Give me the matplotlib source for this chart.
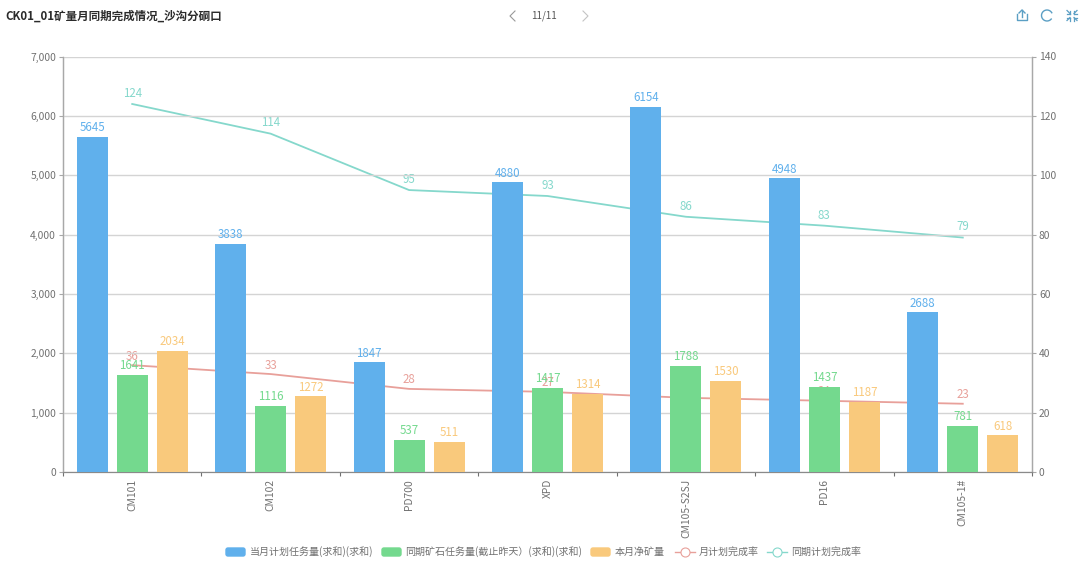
import matplotlib
matplotlib.use("Agg")
import matplotlib.pyplot as plt
import numpy as np
from matplotlib.patches import FancyBboxPatch

plt.rcParams["font.family"] = ["Noto Sans CJK SC", "DejaVu Sans"]

AZUL = "#60B0EC"
VERDE = "#74D98E"
NARANJA = "#F9C97C"
ROJO = "#E8A09A"
TEAL = "#85D8CC"
GRID = "#D4D4D4"
EJE = "#A8A8A8"
TEXTO = "#707070"
ICONO = "#5B9FC4"

cats = ["CM101", "CM102", "PD700", "XPD", "CM105-S2SJ", "PD16", "CM105-1#"]
plan = [5645, 3838, 1847, 4880, 6154, 4948, 2688]
tongqi = [1641, 1116, 537, 1417, 1788, 1437, 781]
jing = [2034, 1272, 511, 1314, 1530, 1187, 618]
rate_mes = [36, 33, 28, 27, 25, 24, 23]
rate_tq = [124, 114, 95, 93, 86, 83, 79]
ticks_l = [0, 1000, 2000, 3000, 4000, 5000, 6000, 7000]
ticks_r = [0, 20, 40, 60, 80, 100, 120, 140]
legend_labels = ["当月计划任务量(求和)(求和)", "同期矿石任务量(截止昨天）(求和)(求和)",
                 "本月净矿量", "月计划完成率", "同期计划完成率"]

W, H = 1080, 569
fig = plt.figure(figsize=(W / 100, H / 100), dpi=100)
ax = fig.add_axes([63 / W, 1 - 472 / H, (1032 - 63) / W, (472 - 56.5) / H])
ax2 = ax.twinx()

x = np.arange(len(cats))
w = 0.224
off = 0.289

# lineas detras de las barras (como en el original)
ax.set_zorder(2)
ax2.set_zorder(1)
ax.patch.set_visible(False)
ax2.plot(x, rate_mes, color=ROJO, lw=1.3, zorder=2)
ax2.plot(x, rate_tq, color=TEAL, lw=1.3, zorder=2)

ax.bar(x - off, plan, w, color=AZUL, zorder=3)
ax.bar(x, tongqi, w, color=VERDE, zorder=3)
ax.bar(x + off, jing, w, color=NARANJA, zorder=3)


def etiquetas(a, xs, vals, color, dy=2):
    for xi, v in zip(xs, vals):
        a.annotate(str(v), (xi, v), xytext=(0, dy), textcoords="offset points",
                   ha="center", va="bottom", fontsize=8.3, color=color, zorder=6)


etiquetas(ax, x - off, plan, AZUL)
etiquetas(ax, x, tongqi, VERDE)
etiquetas(ax, x + off, jing, NARANJA)
# los valores de 25 y 24 quedan tapados por las barras, igual que en el original
etiquetas(ax2, x, rate_mes, ROJO, dy=1.8)
etiquetas(ax2, x, rate_tq, TEAL, dy=3)

ax.set_xlim(-0.5, 6.5)
ax.set_ylim(0, 7000)
ax2.set_ylim(0, 140)
ax.set_yticks(ticks_l)
ax.set_yticklabels([f"{t:,}" for t in ticks_l])
ax2.set_yticks(ticks_r)
ax.grid(axis="y", color=GRID, lw=1, zorder=0)
ax.set_axisbelow(True)
ax.set_xticks(np.arange(-0.5, 7, 1))
ax.set_xticklabels([])
ax.tick_params(axis="x", length=3, color="#707070", width=0.8)
ax.tick_params(axis="y", length=3, color=EJE, labelcolor=TEXTO, labelsize=7.4, pad=2, width=0.8)
ax2.tick_params(axis="y", length=3, color=EJE, labelcolor=TEXTO, labelsize=7.4, pad=2, width=0.8)
for a in (ax, ax2):
    a.spines["top"].set_visible(False)
    a.spines["left"].set_color(EJE)
    a.spines["right"].set_color(EJE)
    a.spines["bottom"].set_color("#8A8A8A")
    a.spines["left"].set_linewidth(0.9)
    a.spines["right"].set_linewidth(0.9)

for xi, c in zip(x, cats):
    ax.annotate(c, (xi, 0), xytext=(0, -5), textcoords="offset points", rotation=90,
                ha="center", va="top", fontsize=7.4, color=TEXTO, annotation_clip=False)

# titulo y barra de herramientas
fig.text(5 / W, 1 - 16 / H, "CK01_01矿量月同期完成情况_沙沟分硐口", fontsize=8.3,
         fontweight="bold", color="#2B2B2B", va="center", ha="left")
fig.text(544 / W, 1 - 16 / H, "11/11", fontsize=7.0, color="#555555", va="center", ha="center")

# iconos dibujados en coordenadas de pixel
ov = fig.add_axes([0, 0, 1, 1])
ov.set_xlim(0, W)
ov.set_ylim(H, 0)
ov.axis("off")
ov.patch.set_visible(False)
ov.plot([515, 510, 515], [11, 16, 21], color="#999999", lw=0.8)
ov.plot([583, 588, 583], [11, 16, 21], color="#C4C4C4", lw=0.8)
ov.plot([1017, 1017, 1027, 1027], [14, 20, 20, 14], color=ICONO, lw=1)
ov.plot([1022, 1022], [10, 17], color=ICONO, lw=1)
ov.plot([1019, 1022, 1025], [13, 10, 13], color=ICONO, lw=1)
t = np.radians(np.arange(40, 340, 10))
ov.plot(1047 + 5.5 * np.cos(t), 15.5 + 5.5 * np.sin(t), color=ICONO, lw=1)
for sx, sy in [(-1, -1), (1, -1), (-1, 1), (1, 1)]:
    cx, cy = 1072 + sx * 2, 15.5 + sy * 2
    ov.plot([cx, cx + sx * 3], [cy, cy + sy * 3], color=ICONO, lw=0.9)
    ov.plot([cx, cx + sx * 3], [cy, cy], color=ICONO, lw=0.9)
    ov.plot([cx, cx], [cy, cy + sy * 3], color=ICONO, lw=0.9)

# leyenda a mano para respetar las posiciones del original
ly = 552
items = [(225, 250, AZUL), (381, 405, VERDE), (590, 615, NARANJA)]
for (x0, tx, col), lab in zip(items, legend_labels[:3]):
    ov.add_patch(FancyBboxPatch((x0 + 1, ly - 4), 19, 8, boxstyle="round,pad=0,rounding_size=2",
                                fc=col, ec=col, lw=1))
    ov.text(tx, ly, lab, fontsize=7.2, color=TEXTO, va="center", ha="left")
for (x0, tx, col), lab in zip([(675, 699, ROJO), (767, 791, TEAL)], legend_labels[3:]):
    ov.plot([x0, x0 + 20], [ly, ly], color=col, lw=1)
    ov.plot([x0 + 10], [ly], "o", ms=6.5, mfc="white", mec=col, mew=0.8)
    ov.text(tx, ly, lab, fontsize=7.2, color=TEXTO, va="center", ha="left")

fig.savefig("out.png", dpi=100)
